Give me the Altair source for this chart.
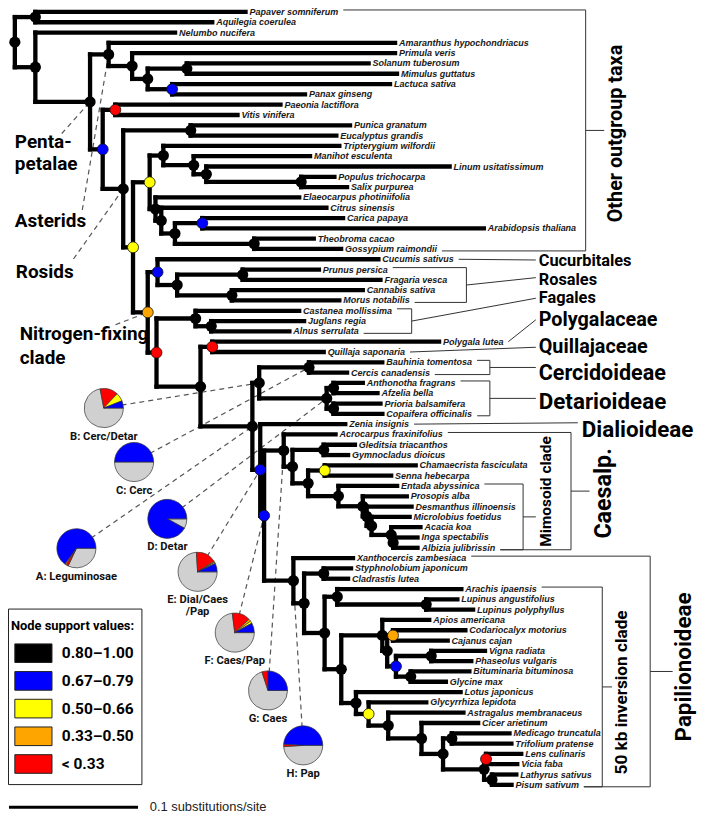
import altair as alt
import pandas as pd

# ---------------------------------------------------------------- data
# Phylogeny (branch lengths in substitutions/site); internal labels = support class | tag
TREE_NEWICK = """
((Papaver_somniferum:0.1629,Aquilegia_coerulea:0.1371)k:0.0159,
(Nelumbo_nucifera:0.1083,
((Amaranthus_hypochondriacus:0.2220,
(Primula_veris:0.2038,
((Solanum_tuberosum:0.1409,Mimulus_guttatus:0.1629)k:0.0303,
(Lactuca_sativa:0.1689,Panax_ginseng:0.1030)b:0.0189)k:0.0121)k:0.0182)k|Asterids:0.0144,
((Paeonia_lactiflora:0.1280,Vitis_vinifera:0.0947)r:0.0098,
((Punica_granatum:0.1235,Eucalyptus_grandis:0.1129)k:0.0523,
(((Tripterygium_wilfordii:0.1364,
(Manihot_esculenta:0.0902,
(Linum_usitatissimum:0.1886,
(Populus_trichocarpa:0.0258,Salix_purpurea:0.0356)k:0.0735)k:0.0098)k:0.0235)k:0.0106,
(Elaeocarpus_photiniifolia:0.1114,
(Citrus_sinensis:0.1280,
((Carica_papaya:0.1091,Arabidopsis_thaliana:0.2182)b:0.0212,
(Theobroma_cacao:0.0462,Gossypium_raimondii:0.0674)k:0.0614)k:0.0106)k:0.0045)k:0.0045)y:0.0129,
((Cucumis_sativus:0.1712,
((Prunus_persica:0.0591,Fragaria_vesca:0.1068)k:0.0508,
(Cannabis_sativa:0.1015,Morus_notabilis:0.0833)k:0.0424)k:0.0152)b:0.0076,
((Castanea_mollissima:0.0803,
(Juglans_regia:0.0720,Alnus_serrulata:0.0606)k:0.0121)k:0.0303,
((Polygala_lutea:0.1758,Quillaja_saponaria:0.0864)r:0.0091,
(((Bauhinia_tomentosa:0.0568,Cercis_canadensis:0.0295)k|C:0.0386,
((Anthonotha_fragrans:0.0227,Afzelia_bella:0.0341)k:0.0053,
(Prioria_balsamifera:0.0364,Copaifera_officinalis:0.0379)k:0.0053)k|D:0.0523)k|B:0.0053,
(Zenia_insignis:0.0659,
((Acrocarpus_fraxinifolius:0.0402,
((Gleditsia_triacanthos:0.0242,Gymnocladus_dioicus:0.0189)k:0.0242,
((Chamaecrista_fasciculata:0.0705,Senna_hebecarpa:0.0515)y:0.0129,
(Entada_abyssinica:0.0455,
(Prosopis_alba:0.0341,
(Desmanthus_illinoensis:0.0348,
(Microlobius_foetidus:0.0295,
(Acacia_koa:0.0227,
(Inga_spectabilis:0.0189,Albizia_julibrissin:0.0189)k:0.0015)k:0.0152)k:0.0038)k:0.0030)k:0.0189)k:0.0235)k:0.0121)k:0.0068)k|G:0.0152,
(Xanthocercis_zambesiaca:0.0462,
((Styphnolobium_japonicum:0.0212,Cladrastis_lutea:0.0189)k:0.0152,
((Arachis_ipaensis:0.0962,
(Lupinus_angustifolius:0.0242,Lupinus_polyphyllus:0.0364)k:0.0689)k:0.0098,
((Apios_americana:0.0364,
((Codariocalyx_motorius:0.0561,Cajanus_cajan:0.0424)o:0.0045,
((Vigna_radiata:0.0417,Phaseolus_vulgaris:0.0311)k:0.0273,
(Bituminaria_bituminosa:0.0455,Glycine_max:0.0273)k:0.0114)b:0.0068)k:0.0038)k:0.0318,
(Lotus_japonicus:0.0811,
(Glycyrrhiza_lepidota:0.0447,
(Astragalus_membranaceus:0.0583,
(Cicer_arietinum:0.0439,
((Medicago_truncatula:0.0447,Trifolium_pratense:0.0462)k:0.0068,
((Lens_culinaris:0.0273,Vicia_faba:0.0242)r:0.0015,
(Lathyrus_sativus:0.0189,Pisum_sativum:0.0152)k:0.0061)k:0.0318)k:0.0167)k:0.0258)k:0.0152)y:0.0098)k:0.0114)k:0.0129)k:0.0159)k:0.0083)k|H:0.0227)b|F:0.0030)b|E:0.0061)k|A:0.0402)k:0.0341)r:0.0068)o|NFC:0.0114)y:0.0076)k|Rosids:0.0159)b:0.0098)k|Pentapetalae:0.0424)k:0.0159)k;
"""

SUPPORT_CODES = ["k", "b", "y", "o", "r"]
SUPPORT_LABELS = ["0.80\u20131.00", "0.67\u20130.79", "0.50\u20130.66", "0.33\u20130.50", "< 0.33"]
SUPPORT_COLORS = ["#000000", "#0000ff", "#ffff00", "#ffa500", "#ff0000"]

PIE_IDS = ["A", "B", "C", "D", "E", "F", "G", "H"]
PIE_TITLES = ["A: Leguminosae", "B: Cerc/Detar", "C: Cerc", "D: Detar",
              "E: Dial/Caes\n/Pap", "F: Caes/Pap", "G: Caes", "H: Pap"]
PIE_GRAY = [0.32, 0.72, 0.50, 0.08, 0.74, 0.73, 0.70, 0.49]
PIE_RED = [0.02, 0.15, 0.00, 0.00, 0.17, 0.15, 0.05, 0.02]
PIE_ORANGE = [0.01, 0.00, 0.00, 0.00, 0.01, 0.02, 0.00, 0.00]
PIE_YELLOW = [0.00, 0.07, 0.00, 0.00, 0.01, 0.02, 0.00, 0.00]
PIE_BLUE = [0.65, 0.06, 0.50, 0.92, 0.07, 0.08, 0.25, 0.49]
PIE_PART_COLORS = ["#d0d0d0", "#ff0000", "#ffa500", "#ffff00", "#0000ff"]

SCALE_BAR_SUBS = 0.1
SCALE_BAR_LABEL = "0.1 substitutions/site"
LEGEND_TITLE = "Node support values:"

# ---------------------------------------------------------------- layout
IMG_W, IMG_H = 709, 822
PLOT_W, PLOT_H = 693, 806
SX = PLOT_W / IMG_W
ROOT_X = 7
PX_PER_SUB = 1320
TIP_Y0 = 4.0
TIP_STEP = 10.51
COND = "Roboto, Liberation Sans, sans-serif"   # stands in for a condensed bold face
CK = 0.88 * SX                                  # size factor for that stand-in
SANS = "Liberation Sans, Arial, sans-serif"
TIP_FS = 9.2

PIE_POS = {"A": (70, 551), "B": (98, 408), "C": (129, 463), "D": (163, 521),
           "E": (194, 575), "F": (232, 637), "G": (266, 696), "H": (302, 752)}
PIE_R = 20

CLADE_BRACKETS = [
    # label, first tip, last tip, bracket x, tick end x, tick end y (None=mid), label x, label y, size, rotated
    ("Other outgroup taxa", "Papaver somniferum", "Gossypium raimondii", 591, 610, None, 622, 128, 23, True),
    ("Rosales", "Prunus persica", "Morus notabilis", 469, 540, 275, 543, 277, 19, False),
    ("Fagales", "Castanea mollissima", "Alnus serrulata", 413, 540, 296, 543, 296, 19, False),
    ("Cercidoideae", "Bauhinia tomentosa", "Cercis canadensis", 493, 540, None, 543, 373, 25, False),
    ("Detarioideae", "Anthonotha fragrans", "Copaifera officinalis", 493, 540, None, 543, 402, 26, False),
    ("Caesalp.", "Acrocarpus fraxinifolius", "Albizia julibrissin", 576, 595, None, 610, 495, 27, True),
    ("Mimosoid clade", "Entada abyssinica", "Albizia julibrissin", 527, 540, None, 550, 493, 18, True),
    ("Papilionoideae", "Xanthocercis zambesiaca", "Pisum sativum", 657, 680, None, 692, 672, 26, True),
    ("50 kb inversion clade", "Arachis ipaensis", "Pisum sativum", 608, 618, None, 628, 698, 20, True),
]
SINGLE_POINTERS = [
    # label, tip, line end x, line end y, label x, label y, size
    ("Cucurbitales", "Cucumis sativus", 540, 257, 543, 258, 19),
    ("Polygalaceae", "Polygala lutea", 540, 318, 543, 318, 23),
    ("Quillajaceae", "Quillaja saponaria", 540, 346, 543, 346, 23),
    ("Dialioideae", "Zenia insignis", 583, 423, 587, 430, 26),
]
LEFT_LABELS = [  # text, x, baseline y, pointer start x, pointer start y, node tag
    ("Penta-", 7, 143, None, None, None),
    ("petalae", 7, 165, 55, 128, "Pentapetalae"),
    ("Asterids", 7, 223, 76, 206, "Asterids"),
    ("Rosids", 8, 275, 67, 256, "Rosids"),
    ("Nitrogen-fixing", 12, 339, 110, 323, "NFC"),
    ("clade", 12, 363, None, None, None),
]

# Arial-bold advance widths (1/1000 em) to find where tip labels end
CW = dict(zip("abcdefghijklmnopqrstuvwxyz",
              [556, 611, 556, 611, 556, 333, 611, 611, 278, 278, 556, 278, 889,
               611, 611, 611, 611, 389, 556, 333, 611, 556, 778, 556, 556, 500]))
CW.update(dict(zip("ABCDEFGHIJKLMNOPQRSTUVWXYZ",
                   [722, 722, 722, 722, 667, 611, 778, 722, 278, 556, 722, 611, 833,
                    722, 778, 667, 778, 722, 667, 611, 722, 667, 944, 667, 667, 611])))
CW[" "] = 278


def text_w(s, size):
    return sum(CW.get(c, 556) for c in s) / 1000.0 * size


# ---------------------------------------------------------------- tree parsing / layout
def parse_newick(s):
    s = "".join(s.split())
    pos = 0

    def read():
        nonlocal pos
        kids = []
        if s[pos] == "(":
            pos += 1
            while True:
                kids.append(read())
                ch = s[pos]
                pos += 1
                if ch == ")":
                    break
        st = pos
        while s[pos] not in ":,();":
            pos += 1
        label = s[st:pos]
        length = 0.0
        if s[pos] == ":":
            pos += 1
            st = pos
            while s[pos] not in ",();":
                pos += 1
            length = float(s[st:pos])
        return {"kids": kids, "label": label, "len": length}

    return read()


tree = parse_newick(TREE_NEWICK)
tips, internals = [], []


def place(n, parent_depth):
    n["depth"] = parent_depth + n["len"]
    n["x"] = ROOT_X + PX_PER_SUB * n["depth"]
    if n["kids"]:
        for k in n["kids"]:
            place(k, n["depth"])
        n["y"] = (n["kids"][0]["y"] + n["kids"][-1]["y"]) / 2
        code, _, tag = n["label"].partition("|")
        n["support"], n["tag"] = code, tag
        internals.append(n)
    else:
        n["y"] = TIP_Y0 + TIP_STEP * len(tips)
        n["name"] = n["label"].replace("_", " ")
        tips.append(n)


place(tree, 0.0)
TIP = {t["name"]: t for t in tips}
TAG = {n["tag"]: n for n in internals if n["tag"]}


def label_end(name):
    t = TIP[name]
    return t["x"] + 4 + text_w(name, TIP_FS) + 5


segs = []
for n in internals:
    segs.append(dict(x=n["x"], y=n["kids"][0]["y"], x2=n["x"], y2=n["kids"][-1]["y"]))
    for k in n["kids"]:
        segs.append(dict(x=n["x"], y=k["y"], x2=k["x"], y2=k["y"]))
seg_df = pd.DataFrame(segs)

col_of = dict(zip(SUPPORT_CODES, SUPPORT_COLORS))
node_df = pd.DataFrame([dict(x=n["x"], y=n["y"], fill=col_of[n["support"]],
                             black=n["support"] == "k") for n in internals])
tip_df = pd.DataFrame([dict(x=t["x"], y=t["y"], name=t["name"]) for t in tips])

# dashed leader lines
dash = []
for pid in PIE_IDS:
    cx, cy = PIE_POS[pid]
    nd = TAG[pid]
    dash.append(dict(x=cx, y=cy, x2=nd["x"], y2=nd["y"]))
for txt, lx, ly, px, py, tag in LEFT_LABELS:
    if tag:
        nd = TAG[tag]
        dash.append(dict(x=px, y=py, x2=nd["x"], y2=nd["y"]))
dash_df = pd.DataFrame(dash)

# pies
pie_rows = []
parts = [PIE_GRAY, PIE_RED, PIE_ORANGE, PIE_YELLOW, PIE_BLUE]
for i, pid in enumerate(PIE_IDS):
    cx, cy = PIE_POS[pid]
    vals = [p[i] for p in parts]
    tot = sum(vals)
    a = 3.14159265 / 2
    for v, c in zip(vals, PIE_PART_COLORS):
        if v <= 0:
            continue
        a2 = a + v / tot * 2 * 3.14159265
        pie_rows.append(dict(x=cx, y=cy, t0=a, t1=a2, fill=c))
        a = a2
pie_df = pd.DataFrame(pie_rows)
pie_lab_df = pd.DataFrame([dict(x=PIE_POS[p][0], y=PIE_POS[p][1] + PIE_R + 3, text=t)
                           for p, t in zip(PIE_IDS, PIE_TITLES)])

# brackets
br = []
rot_lab, hor_lab = [], []
for lab, a, b, bx, tx, ty, lx, ly, fs, rot in CLADE_BRACKETS:
    top = TIP[a]["y"] - 2
    bot = TIP[b]["y"] + 2
    mid = (top + bot) / 2
    br.append(dict(x=bx, y=top, x2=bx, y2=bot))
    br.append(dict(x=label_end(a), y=top, x2=bx, y2=top))
    br.append(dict(x=label_end(b), y=bot, x2=bx, y2=bot))
    br.append(dict(x=bx, y=mid, x2=tx, y2=mid if ty is None else ty))
    (rot_lab if rot else hor_lab).append(dict(x=lx, y=ly, text=lab, fs=fs * CK))
for lab, tip, ex, ey, lx, ly, fs in SINGLE_POINTERS:
    br.append(dict(x=label_end(tip), y=TIP[tip]["y"], x2=ex, y2=ey))
    hor_lab.append(dict(x=lx, y=ly, text=lab, fs=fs * CK))
br_df = pd.DataFrame(br)
rot_df = pd.DataFrame(rot_lab)
hor_df = pd.DataFrame(hor_lab)
left_df = pd.DataFrame([dict(x=lx, y=ly, text=t) for t, lx, ly, *_ in LEFT_LABELS])

# legend
LEG_X0, LEG_X1, LEG_Y0, LEG_Y1 = 0.5, 137, 613, 792
legend_box = pd.DataFrame([dict(x=LEG_X0, x2=LEG_X1, y=LEG_Y0, y2=LEG_Y1)])
sw = []
for i, (lab, col) in enumerate(zip(SUPPORT_LABELS, SUPPORT_COLORS)):
    cy = 658 + 28.25 * i
    sw.append(dict(x=7, x2=45, y=cy - 9.5, y2=cy + 9.5, ty=cy, tx=55, fill=col, text=lab))
sw_df = pd.DataFrame(sw)
leg_title_df = pd.DataFrame([dict(x=3, y=630, text=LEGEND_TITLE)])

# scale bar
SB_Y = 815
sb_df = pd.DataFrame([dict(x=1, x2=1 + SCALE_BAR_SUBS * PX_PER_SUB, y=SB_Y, y2=SB_Y)])
sb_lab_df = pd.DataFrame([dict(x=145, y=SB_Y, text=SCALE_BAR_LABEL)])

# ---------------------------------------------------------------- chart
XS = alt.Scale(domain=[0, IMG_W], nice=False, zero=False)
YS = alt.Scale(domain=[0, IMG_H], nice=False, zero=False, reverse=True)


def X(f):
    return alt.X(f, type="quantitative", scale=XS, axis=None)


def Y(f):
    return alt.Y(f, type="quantitative", scale=YS, axis=None)


def rules(df, **kw):
    return alt.Chart(df).mark_rule(**kw).encode(
        x=X("x"), y=Y("y"), x2=alt.X2("x2"), y2=alt.Y2("y2"))


layers = []
layers.append(rules(dash_df, color="#555555", strokeWidth=1.2, strokeDash=[5, 4]))
layers.append(rules(br_df, color="#333333", strokeWidth=1))
layers.append(rules(seg_df, color="#000000", strokeWidth=4.4 * SX, strokeCap="square"))
layers.append(alt.Chart(node_df[node_df.black]).mark_circle(size=125, opacity=1, color="#000000")
              .encode(x=X("x"), y=Y("y")))
layers.append(alt.Chart(node_df[~node_df.black]).mark_circle(size=120, opacity=1, stroke="#111111",
                                                             strokeWidth=0.8)
              .encode(x=X("x"), y=Y("y"), fill=alt.Fill("fill:N", scale=None)))
layers.append(alt.Chart(pie_df).mark_arc(outerRadius=PIE_R * SX, stroke="#333333", strokeWidth=0.7)
              .encode(x=X("x"), y=Y("y"), theta=alt.Theta("t0:Q", scale=None),
                      theta2=alt.Theta2("t1"), fill=alt.Fill("fill:N", scale=None)))
layers.append(alt.Chart(pie_lab_df).mark_text(align="center", baseline="top", font=COND,
                                              fontWeight="bold", fontSize=13 * CK, lineBreak="\n",
                                              lineHeight=12, color="#111111")
              .encode(x=X("x"), y=Y("y"), text="text:N"))
layers.append(alt.Chart(tip_df).mark_text(align="left", baseline="middle", dx=4 * SX, font=SANS,
                                          fontStyle="italic", fontWeight="bold",
                                          fontSize=TIP_FS * SX, color="#1a1a1a")
              .encode(x=X("x"), y=Y("y"), text="name:N"))
layers.append(alt.Chart(hor_df).mark_text(align="left", baseline="middle", font=COND,
                                          fontWeight="bold", color="#000000")
              .encode(x=X("x"), y=Y("y"), text="text:N", size=alt.Size("fs:Q", scale=None)))
layers.append(alt.Chart(rot_df).mark_text(align="center", baseline="middle", font=COND,
                                          fontWeight="bold", color="#000000", angle=270)
              .encode(x=X("x"), y=Y("y"), text="text:N", size=alt.Size("fs:Q", scale=None)))
layers.append(alt.Chart(left_df).mark_text(align="left", baseline="alphabetic", font=COND,
                                           fontWeight="bold", fontSize=22 * CK, color="#000000")
              .encode(x=X("x"), y=Y("y"), text="text:N"))
layers.append(alt.Chart(legend_box).mark_rect(fill="#ffffff", stroke="#222222", strokeWidth=1)
              .encode(x=X("x"), x2=alt.X2("x2"), y=Y("y"), y2=alt.Y2("y2")))
layers.append(alt.Chart(sw_df).mark_rect(stroke="#222222", strokeWidth=1)
              .encode(x=X("x"), x2=alt.X2("x2"), y=Y("y"), y2=alt.Y2("y2"),
                      fill=alt.Fill("fill:N", scale=None)))
layers.append(alt.Chart(sw_df).mark_text(align="left", baseline="middle", font=COND,
                                         fontWeight="bold", fontSize=18 * CK, color="#000000")
              .encode(x=X("tx"), y=Y("ty"), text="text:N"))
layers.append(alt.Chart(leg_title_df).mark_text(align="left", baseline="middle", font=COND,
                                                fontWeight="bold", fontSize=15 * CK, color="#000000")
              .encode(x=X("x"), y=Y("y"), text="text:N"))
layers.append(rules(sb_df, color="#000000", strokeWidth=3))
layers.append(alt.Chart(sb_lab_df).mark_text(align="left", baseline="middle", font=SANS,
                                             fontSize=13.2 * SX, color="#222222")
              .encode(x=X("x"), y=Y("y"), text="text:N"))

chart = alt.layer(*layers).properties(
    width=PLOT_W, height=PLOT_H, padding=0, autosize=alt.AutoSizeParams(type="none")
).configure_view(stroke=None)

chart.save("out.html", embed_options={"renderer": "svg", "actions": False})
